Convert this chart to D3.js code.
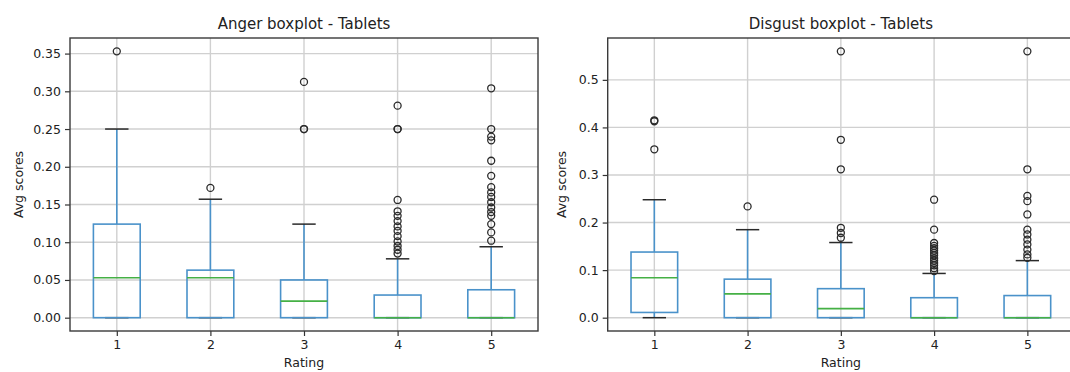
<!DOCTYPE html>
<html>
<head>
<meta charset="utf-8">
<script src="https://cdn.jsdelivr.net/npm/d3@7"></script>
<style>
  body { margin: 0; background: #fff; }
  text { font-family: "DejaVu Sans", sans-serif; fill: #222; }
</style>
</head>
<body>
<div id="chart"></div>
<script>

// categories on the x axis
var ratings = [1, 2, 3, 4, 5];

// Anger box stats, one value per rating
var angerQ1 = [0, 0, 0, 0, 0];
var angerMedian = [0.053, 0.053, 0.022, 0, 0];
var angerQ3 = [0.124, 0.063, 0.050, 0.030, 0.037];
var angerLow = [0, 0, 0, 0, 0];
var angerHigh = [0.250, 0.157, 0.124, 0.078, 0.094];
var angerOutliers = [
  [0.353],
  [0.172],
  [0.3125, 0.25, 0.25],
  [0.281, 0.25, 0.25, 0.156, 0.141, 0.135, 0.128, 0.121, 0.115, 0.108, 0.101, 0.095, 0.090, 0.085],
  [0.304, 0.25, 0.24, 0.235, 0.208, 0.188, 0.173, 0.166, 0.160, 0.153, 0.146, 0.140, 0.135, 0.124, 0.113, 0.102]
];
var angerTicks = [0, 0.05, 0.10, 0.15, 0.20, 0.25, 0.30, 0.35];

// Disgust box stats
var disgustQ1 = [0.011, 0, 0, 0, 0];
var disgustMedian = [0.084, 0.050, 0.019, 0, 0];
var disgustQ3 = [0.138, 0.081, 0.061, 0.042, 0.0465];
var disgustLow = [0, 0, 0, 0, 0];
var disgustHigh = [0.248, 0.185, 0.158, 0.093, 0.120];
var disgustOutliers = [
  [0.415, 0.413, 0.354],
  [0.234],
  [0.56, 0.374, 0.312, 0.189, 0.178, 0.168],
  [0.248, 0.185, 0.157, 0.151, 0.146, 0.141, 0.136, 0.131, 0.125, 0.120, 0.115, 0.110, 0.104, 0.098],
  [0.56, 0.312, 0.256, 0.245, 0.217, 0.185, 0.175, 0.164, 0.154, 0.143, 0.133, 0.126]
];
var disgustTicks = [0, 0.1, 0.2, 0.3, 0.4, 0.5];

var width = 1070, height = 372;

var svg = d3.select("#chart")
  .append("svg")
    .attr("width", width)
    .attr("height", height);

var blue = "#4a92ca", green = "#45b045", capColor = "#2a2a2a";

function boxplot(box, title, q1, med, q3, low, high, outliers, ticks, fmt)
{
  var g = svg.append("g");

  // matplotlib style y range: data extent padded by 5%
  var all = low.concat(high, d3.merge(outliers));
  var lo = d3.min(all), hi = d3.max(all), pad = (hi - lo) * 0.05;

  var x = d3.scaleLinear()
    .domain([0.5, ratings.length + 0.5])
    .range([box.left, box.right]);
  var y = d3.scaleLinear()
    .domain([lo - pad, hi + pad])
    .range([box.bottom, box.top]);

  // grid
  g.selectAll(".hgrid").data(ticks).enter().append("line")
    .attr("x1", box.left).attr("x2", box.right)
    .attr("y1", function(d) { return y(d); })
    .attr("y2", function(d) { return y(d); })
    .attr("stroke", "#d0d0d0").attr("stroke-width", 1.4);
  g.selectAll(".vgrid").data(ratings).enter().append("line")
    .attr("x1", function(d) { return x(d); })
    .attr("x2", function(d) { return x(d); })
    .attr("y1", box.top).attr("y2", box.bottom)
    .attr("stroke", "#d0d0d0").attr("stroke-width", 1.4);

  // axes
  g.append("g")
    .attr("transform", "translate(0," + box.bottom + ")")
    .call(d3.axisBottom(x).tickValues(ratings).tickFormat(d3.format("d")).tickSize(5).tickPadding(4))
    .call(function(a) { a.select(".domain").remove(); })
    .selectAll("text").attr("font-size", "12.5px").attr("fill", "#2a2a2a");
  g.append("g")
    .attr("transform", "translate(" + box.left + ",0)")
    .call(d3.axisLeft(y).tickValues(ticks).tickFormat(d3.format(fmt)).tickSize(5).tickPadding(4))
    .call(function(a) { a.select(".domain").remove(); })
    .selectAll("text").attr("font-size", "12.5px").attr("fill", "#2a2a2a");
  g.selectAll(".tick line").attr("stroke", "#333").attr("stroke-width", 1.2);
  g.selectAll(".tick text").attr("font-family", "DejaVu Sans");

  var bw = 0.25; // half box width in data units
  ratings.forEach(function(r, i) {
    // whiskers
    g.append("line")
      .attr("x1", x(r)).attr("x2", x(r))
      .attr("y1", y(q3[i])).attr("y2", y(high[i]))
      .attr("stroke", blue).attr("stroke-width", 1.6);
    g.append("line")
      .attr("x1", x(r)).attr("x2", x(r))
      .attr("y1", y(q1[i])).attr("y2", y(low[i]))
      .attr("stroke", blue).attr("stroke-width", 1.6);
    // caps
    [low[i], high[i]].forEach(function(v) {
      g.append("line")
        .attr("x1", x(r - bw / 2)).attr("x2", x(r + bw / 2))
        .attr("y1", y(v)).attr("y2", y(v))
        .attr("stroke", capColor).attr("stroke-width", 1.5);
    });
    // box
    g.append("rect")
      .attr("x", x(r - bw)).attr("width", x(r + bw) - x(r - bw))
      .attr("y", y(q3[i])).attr("height", y(q1[i]) - y(q3[i]))
      .attr("fill", "none").attr("stroke", blue).attr("stroke-width", 1.6);
    // median
    g.append("line")
      .attr("x1", x(r - bw)).attr("x2", x(r + bw))
      .attr("y1", y(med[i])).attr("y2", y(med[i]))
      .attr("stroke", green).attr("stroke-width", 1.6);
    // fliers
    g.selectAll(".flier" + i).data(outliers[i]).enter().append("circle")
      .attr("cx", x(r))
      .attr("cy", function(d) { return y(d); })
      .attr("r", 3.5)
      .attr("fill", "none").attr("stroke", "#2a2a2a").attr("stroke-width", 1.3);
  });

  // frame
  g.append("rect")
    .attr("x", box.left).attr("y", box.top)
    .attr("width", box.right - box.left).attr("height", box.bottom - box.top)
    .attr("fill", "none").attr("stroke", "#3a3a3a").attr("stroke-width", 1.4);

  // labels
  g.append("text")
    .attr("x", (box.left + box.right) / 2).attr("y", 29)
    .attr("text-anchor", "middle").attr("font-size", "15px")
    .text(title);
  g.append("text")
    .attr("x", x(3)).attr("y", 367)
    .attr("text-anchor", "middle").attr("font-size", "12.5px")
    .text("Rating");
  g.append("text")
    .attr("transform", "translate(" + (box.left - box.ylab) + "," + ((box.top + box.bottom) / 2) + ") rotate(-90)")
    .attr("text-anchor", "middle").attr("font-size", "12.5px")
    .text("Avg scores");
}

boxplot({left: 70, right: 538, top: 38, bottom: 331, ylab: 47},
  "Anger boxplot - Tablets",
  angerQ1, angerMedian, angerQ3, angerLow, angerHigh, angerOutliers, angerTicks, ".2f");

boxplot({left: 607.7, right: 1074, top: 38, bottom: 331, ylab: 42},
  "Disgust boxplot - Tablets",
  disgustQ1, disgustMedian, disgustQ3, disgustLow, disgustHigh, disgustOutliers, disgustTicks, ".1f");

</script>
</body>
</html>
